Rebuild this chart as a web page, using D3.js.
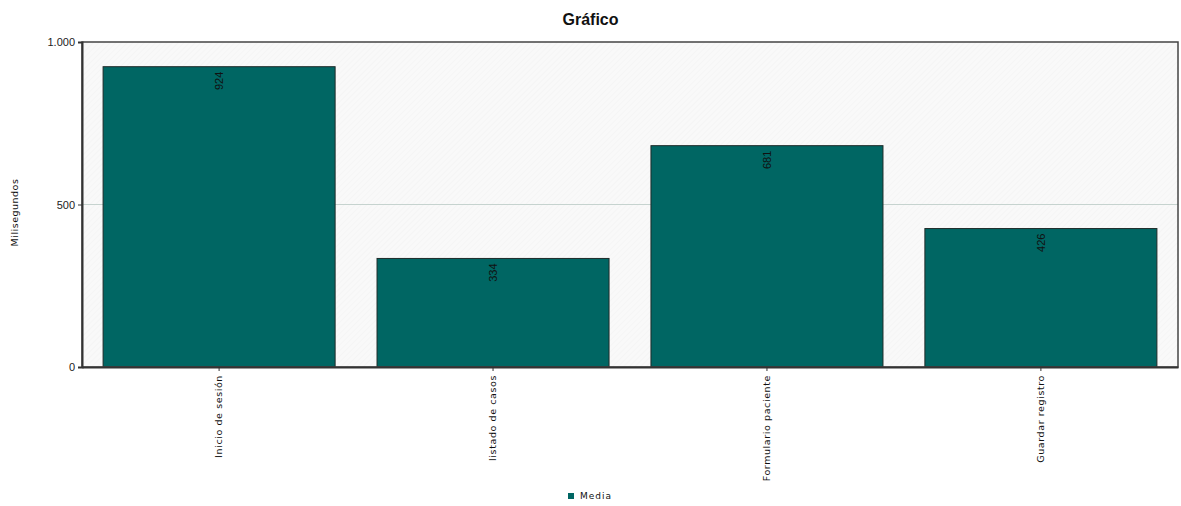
<!DOCTYPE html>
<html>
<head>
<meta charset="utf-8">
<script src="https://cdn.jsdelivr.net/npm/d3@7"></script>
<style>
  body { margin: 0; background: #fff; }
  svg { font-family: "Liberation Sans", Arial, sans-serif; }
</style>
</head>
<body>
<div class="chart"></div>
<script>
var categories = ["Inicio de sesión", "listado de casos", "Formulario paciente", "Guardar registro"];
var media = [924, 334, 681, 426];
var yTicks = [0, 500, 1000];
var seriesName = "Media";

var width = 1181, height = 506;
var margin = {top: 42, right: 3, bottom: 139, left: 82};
var innerW = width - margin.left - margin.right;
var innerH = height - margin.top - margin.bottom;

var svg = d3.select(".chart").append("svg")
  .attr("width", width)
  .attr("height", height);

var defs = svg.append("defs");
var pat = defs.append("pattern")
  .attr("id", "hatch")
  .attr("patternUnits", "userSpaceOnUse")
  .attr("width", 4).attr("height", 4)
  .attr("patternTransform", "rotate(45)");
pat.append("rect").attr("width", 4).attr("height", 4).attr("fill", "#f9f9f9");
pat.append("line").attr("x1", 0).attr("y1", 0).attr("x2", 0).attr("y2", 4)
  .attr("stroke", "#f2f2f2").attr("stroke-width", 1);

var fmt = d3.formatLocale({decimal: ",", thousands: ".", grouping: [3], currency: ["", "€"]}).format(",d");

var x = d3.scaleBand().domain(categories).range([0, innerW]).paddingInner(0.153).paddingOuter(0.077);
var y = d3.scaleLinear().domain([0, 1000]).range([innerH, 0]);

svg.append("text")
  .attr("x", width / 2).attr("y", 25)
  .attr("text-anchor", "middle")
  .attr("font-size", 16).attr("font-weight", "bold")
  .attr("fill", "#111")
  .text("Gráfico");

var g = svg.append("g").attr("transform", "translate(" + margin.left + "," + margin.top + ")");

g.append("rect").attr("width", innerW).attr("height", innerH).attr("fill", "url(#hatch)");

g.selectAll(".grid").data([500]).enter().append("line")
  .attr("x1", 0).attr("x2", innerW)
  .attr("y1", function(d){ return y(d); }).attr("y2", function(d){ return y(d); })
  .attr("stroke", "#c6d3cf").attr("stroke-width", 1);

g.selectAll(".bar").data(media).enter().append("rect")
  .attr("x", function(d, i){ return x(categories[i]); })
  .attr("y", function(d){ return y(d); })
  .attr("width", x.bandwidth())
  .attr("height", function(d){ return innerH - y(d); })
  .attr("fill", "#006663")
  .attr("stroke", "#1e2a28").attr("stroke-width", 1);

g.selectAll(".val").data(media).enter().append("text")
  .attr("transform", function(d, i){
    return "translate(" + (x(categories[i]) + x.bandwidth() / 2 + 4) + "," + (y(d) + 5) + ") rotate(-90)";
  })
  .attr("font-size", 11).attr("fill", "#111")
  .attr("text-anchor", "end")
  .text(function(d){ return d; });

// frame
g.append("rect").attr("width", innerW).attr("height", innerH)
  .attr("fill", "none").attr("stroke", "#444").attr("stroke-width", 1.5);

var yAxis = g.append("g")
  .call(d3.axisLeft(y).tickValues(yTicks).tickSize(4).tickFormat(fmt));
yAxis.select(".domain").attr("stroke", "#333").attr("stroke-width", 2);
yAxis.selectAll(".tick line").attr("stroke", "#333");
yAxis.selectAll(".tick text").attr("font-size", 11).attr("fill", "#222").attr("font-family", "Liberation Sans, Arial, sans-serif");

var xAxis = g.append("g").attr("transform", "translate(0," + innerH + ")")
  .call(d3.axisBottom(x).tickSize(4).tickSizeOuter(0));
xAxis.select(".domain").attr("stroke", "#333").attr("stroke-width", 2);
xAxis.selectAll(".tick line").attr("stroke", "#333");
xAxis.selectAll(".tick text")
  .attr("font-size", 9.5).attr("fill", "#111").attr("font-family", "DejaVu Sans, sans-serif")
  .attr("letter-spacing", 0.6)
  .attr("transform", "rotate(-90)")
  .attr("text-anchor", "end")
  .attr("x", -8).attr("y", 0).attr("dy", "0.35em");

svg.append("text")
  .attr("transform", "translate(18," + (margin.top + innerH / 2 + 8) + ") rotate(-90)")
  .attr("text-anchor", "middle")
  .attr("font-size", 9.5).attr("fill", "#111").attr("font-family", "DejaVu Sans, sans-serif")
  .attr("letter-spacing", 0.5)
  .text("Milisegundos");

var legend = svg.append("g").attr("transform", "translate(568,496)");
legend.append("rect").attr("x", 0).attr("y", -3).attr("width", 6).attr("height", 6).attr("fill", "#006663");
legend.append("text").attr("x", 12).attr("y", 0).attr("dy", "0.35em")
  .attr("font-size", 9).attr("fill", "#111").attr("font-family", "DejaVu Sans, sans-serif")
  .attr("letter-spacing", 1)
  .text(seriesName);
</script>
</body>
</html>
